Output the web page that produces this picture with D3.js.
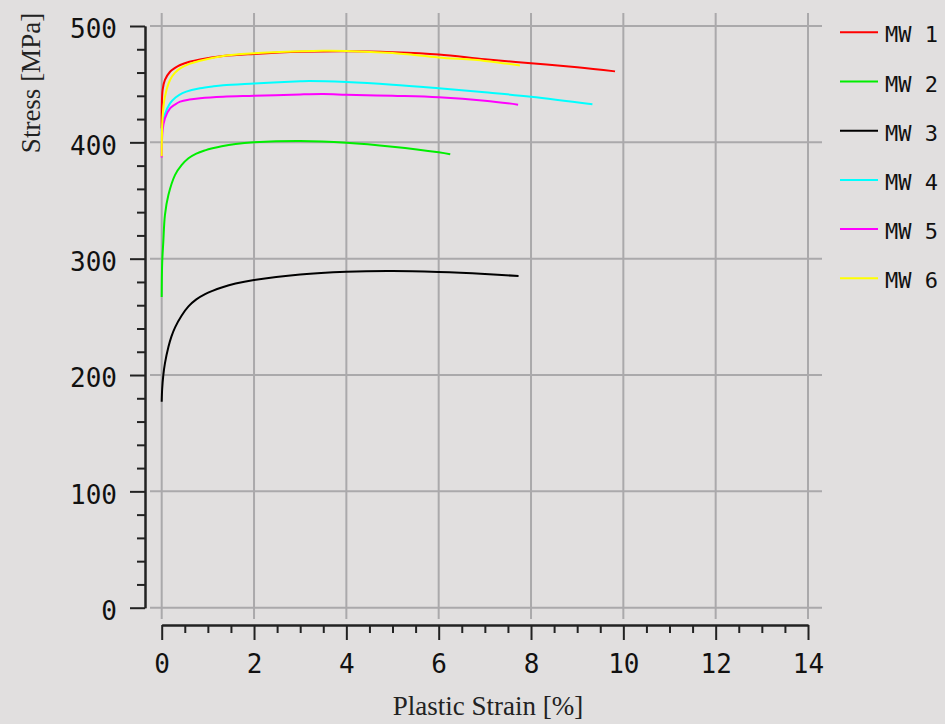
<!DOCTYPE html>
<html>
<head>
<meta charset="utf-8">
<script src="https://cdn.jsdelivr.net/npm/d3@7"></script>
<style>
  body { margin: 0; background: #e1dfdf; }
  svg { display: block; }
  .grid line { stroke: #aaa9ab; stroke-width: 2; }
  .axis path, .axis line { stroke: #222; stroke-width: 2; }
  .axis text { font-family: "DejaVu Sans Mono", monospace; font-size: 26px; fill: #111; }
  .title { font-family: "Liberation Serif", serif; font-size: 27px; fill: #222; }
  .legend text { font-family: "DejaVu Sans Mono", monospace; font-size: 22px; fill: #111; }
  .curve { fill: none; stroke-width: 2; }
</style>
</head>
<body>
<svg width="945" height="724"></svg>
<script>
const seriesNames = ["MW 1", "MW 2", "MW 3", "MW 4", "MW 5", "MW 6"];
const seriesColors = ["#ff0000", "#00ee00", "#000000", "#00ffff", "#ff00ff", "#ffff00"];

const strainMW1 = [0, 0.02, 0.07, 0.18, 0.28, 0.4, 0.6, 0.83, 1.33, 2, 3, 4, 5, 6, 7, 8, 9, 9.82];
const stressMW1 = [412, 445, 453.6, 460.7, 463.8, 466.5, 469.2, 471.3, 474.2, 476, 477.8, 478.3, 477.5, 475.6, 471.5, 468, 464.5, 461];
const strainMW2 = [0, 0.01, 0.035, 0.07, 0.145, 0.29, 0.43, 0.58, 0.75, 0.94, 1.1, 1.3, 1.6, 2, 3, 4, 5, 6, 6.25];
const stressMW2 = [267, 296, 314.6, 337.5, 354.7, 372, 380.4, 386.3, 390.3, 393.1, 394.9, 396.7, 398.6, 400, 401.1, 399.7, 396.3, 391.4, 389.7];
const strainMW3 = [0, 0.01, 0.035, 0.07, 0.145, 0.21, 0.29, 0.43, 0.58, 0.75, 0.94, 1.1, 1.3, 1.6, 2, 3, 4, 5, 6, 7, 7.73];
const stressMW3 = [177, 188, 200, 210, 224, 233, 241, 251, 259, 265, 269.5, 272.3, 275.2, 278.6, 281.7, 286.5, 288.8, 289.4, 288.5, 286.8, 285.1];
const strainMW4 = [0, 0.02, 0.07, 0.18, 0.3, 0.45, 0.65, 0.83, 1.1, 1.33, 2, 3, 3.2, 4, 5, 6, 7, 8, 9.33];
const stressMW4 = [410, 415, 424, 433.5, 438.5, 442.3, 445, 446.5, 448, 449, 450.5, 452.5, 452.7, 451.8, 449.5, 446.4, 443, 439.2, 432.7];
const strainMW5 = [0, 0.02, 0.07, 0.18, 0.28, 0.4, 0.6, 0.83, 1.33, 2, 3, 3.5, 4, 5, 6, 7, 7.72];
const stressMW5 = [387, 410.6, 420.6, 429.2, 432.3, 435, 436.8, 437.9, 439.2, 440, 441.2, 441.5, 441, 440, 438.7, 435.8, 432.4];
const strainMW6 = [0, 0.02, 0.07, 0.18, 0.28, 0.4, 0.6, 0.83, 1.33, 2, 3, 3.5, 4, 5, 6, 7, 7.76];
const stressMW6 = [388, 422, 439.2, 453.6, 459.5, 463.6, 467.5, 470.2, 474.2, 476.5, 478.3, 478.8, 478.6, 476.7, 473, 470, 466];

const xTicks = [0, 2, 4, 6, 8, 10, 12, 14];
const yTicks = [0, 100, 200, 300, 400, 500];

const strains = [strainMW1, strainMW2, strainMW3, strainMW4, strainMW5, strainMW6];
const stresses = [stressMW1, stressMW2, stressMW3, stressMW4, stressMW5, stressMW6];
const series = seriesNames.map((name, i) => ({
  name: name,
  color: seriesColors[i],
  points: strains[i].map((s, j) => [s, stresses[i][j]])
}));

const svg = d3.select("svg");
svg.append("rect").attr("width", 945).attr("height", 724).attr("fill", "#e1dfdf");

const x = d3.scaleLinear().domain([0, 14]).range([161.7, 808]);
const y = d3.scaleLinear().domain([0, 500]).range([607.7, 26]);

// grid
const grid = svg.append("g").attr("class", "grid");
grid.selectAll("line.v").data(xTicks).enter().append("line")
  .attr("class", "v")
  .attr("x1", d => x(d)).attr("x2", d => x(d))
  .attr("y1", 13).attr("y2", 619);
grid.selectAll("line.h").data(yTicks).enter().append("line")
  .attr("class", "h")
  .attr("x1", 150).attr("x2", 822)
  .attr("y1", d => y(d)).attr("y2", d => y(d));

// axes
const yMinor = d3.range(0, 501, 20).filter(v => v % 100 !== 0);
const xMinor = d3.range(0, 14.01, 0.5).filter(v => v % 2 !== 0);

svg.append("g").attr("class", "axis")
  .attr("transform", "translate(145,0)")
  .call(d3.axisLeft(y).tickValues(yMinor).tickSize(8).tickSizeOuter(0).tickFormat(""));
svg.append("g").attr("class", "axis")
  .attr("transform", "translate(145,0)")
  .call(d3.axisLeft(y).tickValues(yTicks).tickSize(15).tickSizeOuter(0).tickPadding(13))
  .selectAll("text").attr("dy", "0.46em");

svg.append("g").attr("class", "axis")
  .attr("transform", "translate(0,625)")
  .call(d3.axisBottom(x).tickValues(xMinor).tickSize(8).tickSizeOuter(0).tickFormat(""));
svg.append("g").attr("class", "axis")
  .attr("transform", "translate(0,625)")
  .call(d3.axisBottom(x).tickValues(xTicks).tickSize(15).tickSizeOuter(0).tickPadding(15));

// titles
svg.append("text").attr("class", "title")
  .attr("x", 488).attr("y", 715)
  .attr("text-anchor", "middle")
  .text("Plastic Strain [%]");
svg.append("text").attr("class", "title")
  .attr("transform", "translate(40,83) rotate(-90)")
  .attr("text-anchor", "middle")
  .text("Stress [MPa]");

// curves, centripetal catmull-rom keeps the steep knee smooth
const line = d3.line()
  .x(d => x(d[0]))
  .y(d => y(d[1]))
  .curve(d3.curveCatmullRom.alpha(0.5));

svg.append("g").selectAll("path").data(series).enter().append("path")
  .attr("class", "curve")
  .attr("stroke", d => d.color)
  .attr("d", d => line(d.points));

// legend
const legend = svg.append("g").attr("class", "legend")
  .selectAll("g").data(series).enter().append("g")
  .attr("transform", (d, i) => `translate(840, ${32.3 + i * 49.2})`);
legend.append("line")
  .attr("x1", 0).attr("x2", 38)
  .attr("stroke", d => d.color).attr("stroke-width", 2);
legend.append("text")
  .attr("x", 45).attr("y", 10)
  .text(d => d.name);
</script>
</body>
</html>
